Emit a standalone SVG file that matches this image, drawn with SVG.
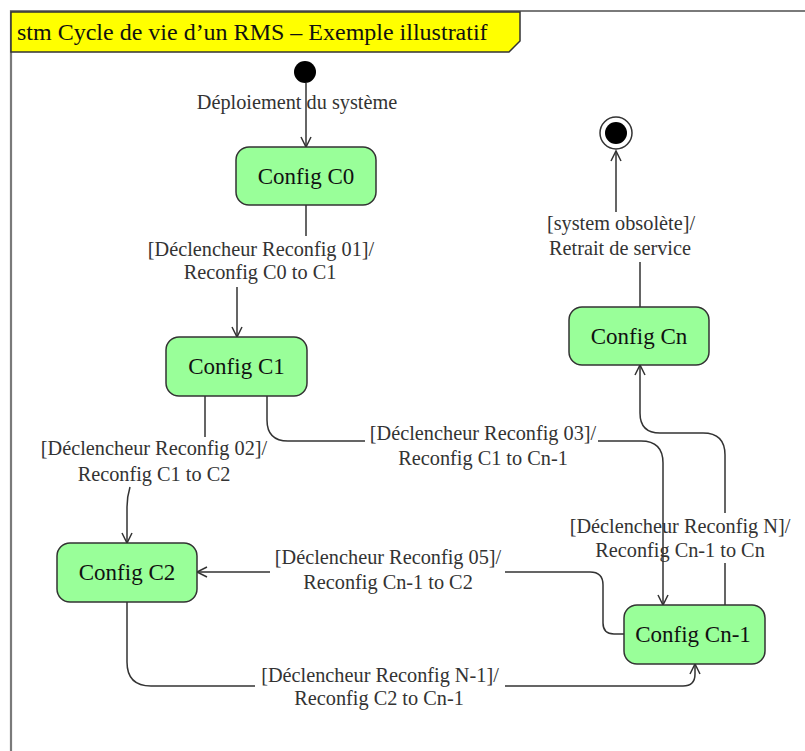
<svg xmlns="http://www.w3.org/2000/svg" width="805" height="751" viewBox="0 0 805 751">
<style>
.frame{fill:none;stroke:#7a7a7a;stroke-width:2.2}
.node rect{fill:#99ff99;stroke:#333;stroke-width:1.5}
.ntxt{font-family:"Liberation Serif","Times New Roman",serif;font-size:23px;fill:#111;text-anchor:middle}
.lbl{font-family:"Liberation Serif","Times New Roman",serif;font-size:20.3px;fill:#333;text-anchor:middle}
.edge{fill:none;stroke:#333;stroke-width:1.5}
.title{font-family:"Liberation Serif","Times New Roman",serif;font-size:24px;fill:#111}
</style>
<defs>
<marker id="arr" markerUnits="userSpaceOnUse" markerWidth="14" markerHeight="14" refX="11" refY="6" orient="auto">
<path d="M1,1 L11,6 L1,11" fill="none" stroke="#333" stroke-width="1.5"/>
</marker>
</defs>
<rect width="805" height="751" fill="#fff"/>
<path class="frame" d="M11,751 V11 H805"/>
<g id="title">
<polygon points="11,12 520,12 520,41 509,52 11,52" fill="#ffff00" stroke="#333" stroke-width="1.5"/>
<text class="title" x="17" y="40">stm Cycle de vie d’un RMS – Exemple illustratif</text>
</g>
<g id="connectors">
<path class="edge" d="M306,83 V147" marker-end="url(#arr)"/>
<path class="edge" d="M306,205 V236 M237,287 V337" marker-end="url(#arr)"/>
<path class="edge" d="M205,396 V437 M130,487 Q127,497 127,507 V543" marker-end="url(#arr)"/>
<path class="edge" d="M267,396 V420 Q267,441 288,441 H365 M598,441 H641 Q663,441 663,463 V605" marker-end="url(#arr)"/>
<path class="edge" d="M624,634 H614 Q603,634 603,623 V585 Q603,572 590,572 H505 M270,572 H197" marker-end="url(#arr)"/>
<path class="edge" d="M127,602 V662 Q127,686 151,686 H255 M505,686 H683 Q695,686 695,674 V664" marker-end="url(#arr)"/>
<path class="edge" d="M725,605 V563 M725,513 V455 Q725,433 703,433 H660 Q640,433 640,413 V365" marker-end="url(#arr)"/>
<path class="edge" d="M640,307 V262 M616,212 V151" marker-end="url(#arr)"/>
<text class="lbl" x="297" y="109">Déploiement du système</text>
<text class="lbl" x="261" y="256">[Déclencheur Reconfig 01]/</text>
<text class="lbl" x="260" y="279">Reconfig C0 to C1</text>
<text class="lbl" x="154" y="455">[Déclencheur Reconfig 02]/</text>
<text class="lbl" x="154" y="481">Reconfig C1 to C2</text>
<text class="lbl" x="483" y="440">[Déclencheur Reconfig 03]/</text>
<text class="lbl" x="483" y="465">Reconfig C1 to Cn-1</text>
<text class="lbl" x="388" y="564">[Déclencheur Reconfig 05]/</text>
<text class="lbl" x="388" y="589">Reconfig Cn-1 to C2</text>
<text class="lbl" x="380" y="682">[Déclencheur Reconfig N-1]/</text>
<text class="lbl" x="379" y="705">Reconfig C2 to Cn-1</text>
<text class="lbl" x="680" y="533">[Déclencheur Reconfig N]/</text>
<text class="lbl" x="680" y="557">Reconfig Cn-1 to Cn</text>
<text class="lbl" x="621" y="230">[system obsolète]/</text>
<text class="lbl" x="620" y="255">Retrait de service</text>
</g>
<g id="initial"><circle cx="305" cy="72" r="11" fill="#000"/></g>
<g id="final"><circle cx="616" cy="133" r="16" fill="#fff" stroke="#333" stroke-width="1.5"/><circle cx="616" cy="133" r="11" fill="#000"/></g>
<g id="c0" class="node"><rect x="236" y="147" width="140" height="58" rx="13"/><text class="ntxt" x="306" y="184">Config C0</text></g>
<g id="c1" class="node"><rect x="166" y="337" width="141" height="59" rx="13"/><text class="ntxt" x="236.5" y="374">Config C1</text></g>
<g id="c2" class="node"><rect x="57" y="543" width="140" height="59" rx="13"/><text class="ntxt" x="127" y="580">Config C2</text></g>
<g id="cn" class="node"><rect x="569" y="307" width="140" height="58" rx="13"/><text class="ntxt" x="639" y="344">Config Cn</text></g>
<g id="cn1" class="node"><rect x="624" y="605" width="141" height="59" rx="13"/><text class="ntxt" x="693" y="642">Config Cn-1</text></g>
</svg>
